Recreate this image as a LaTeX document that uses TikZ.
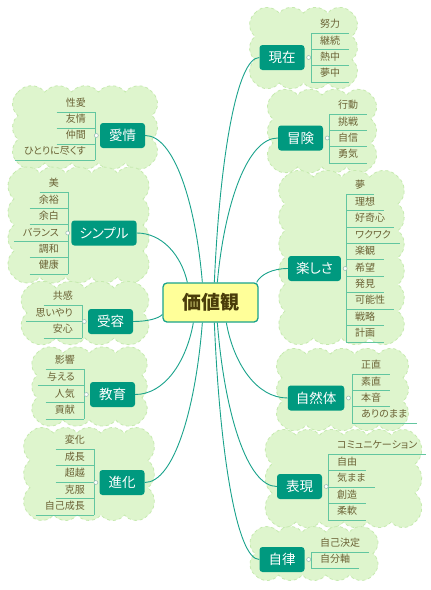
\documentclass[tikz,border=0pt]{standalone}
\usepackage{fontspec}
\newfontfamily\jp[RawFeature=+palt]{Noto Sans CJK JP}
\usetikzlibrary{calc}
\definecolor{cloudfill}{HTML}{DEF5CD}
\definecolor{clouddraw}{HTML}{C6EAAF}
\definecolor{mainc}{HTML}{00997F}
\definecolor{connc}{HTML}{1AA38C}
\definecolor{leafc}{HTML}{6B6235}
\definecolor{linec}{HTML}{62C6A0}
\definecolor{centerfill}{HTML}{FFFF99}
\definecolor{centertext}{HTML}{4A3C0A}
\definecolor{juncc}{HTML}{9DBFB4}

\newcommand\cloudbg[4]{%
  \pgfmathsetmacro\cldxa{#1+5}\pgfmathsetmacro\cldya{#2+5}%
  \pgfmathsetmacro\cldw{#3-#1-10}\pgfmathsetmacro\cldh{#4-#2-10}%
  \pgfmathtruncatemacro\cldnx{max(1,round(\cldw/26))}%
  \pgfmathtruncatemacro\cldny{max(1,round(\cldh/26))}%
  \pgfmathsetmacro\cldrx{\cldw/\cldnx/1.532}%
  \pgfmathsetmacro\cldry{\cldh/\cldny/1.532}%
  \filldraw[cloud] (\cldxa,-\cldya)
    \foreach \i in {1,...,\cldnx}{ arc[start angle=140,end angle=40,radius=\cldrx]}
    \foreach \i in {1,...,\cldny}{ arc[start angle=50,end angle=-50,radius=\cldry]}
    \foreach \i in {1,...,\cldnx}{ arc[start angle=-40,end angle=-140,radius=\cldrx]}
    \foreach \i in {1,...,\cldny}{ arc[start angle=230,end angle=130,radius=\cldry]} -- cycle;}

\newcommand\conn[2]{\draw[connline] let \p1=(#1), \p2=(#2) in (\p1) .. controls ({\x1+0.12*(\x2-\x1)},{\y1+0.55*(\y2-\y1)}) and ({\x2-0.5*(\x2-\x1)},{\y2}) .. (\p2);}
\newcommand\rleaf[4]{\node[leaf,anchor=south west] (#1) at (#2,-#3) {#4}; \draw[leafline] (#1.south west) -- (#1.south east);}
\newcommand\lleaf[4]{\node[leaf,anchor=south east] (#1) at (#2,-#3) {#4}; \draw[leafline] (#1.south west) -- (#1.south east);}

\begin{document}
\begin{tikzpicture}[x=1pt,y=1pt,
  cloud/.style={fill=cloudfill,draw=clouddraw,dashed,line width=0.8pt},
  mainnode/.style={fill=mainc,text=white,rounded corners=3pt,minimum height=25pt,minimum width=45pt,inner xsep=8pt,inner ysep=0pt,font=\jp\fontsize{13.5}{15}\selectfont},
  centernode/.style={fill=centerfill,draw=connc,line width=1.3pt,rounded corners=4pt,minimum width=95pt,minimum height=39pt,text=centertext,font=\jp\bfseries\fontsize{19}{21}\selectfont},
  leaf/.style={inner xsep=9pt,inner ysep=3pt,text height=8pt,text depth=2pt,text=leafc,font=\jp\fontsize{10}{12}\selectfont},
  leafline/.style={draw=linec,line width=0.8pt},
  connline/.style={draw=connc,line width=0.9pt},
  junc/.style={circle,draw=juncc,fill=white,line width=0.6pt,minimum size=4pt,inner sep=0pt}]
\useasboundingbox[fill=white] (0,0) rectangle (431,-590);

% clouds
\cloudbg{250}{8}{357}{88}
\cloudbg{268}{90}{376}{172}
\cloudbg{280}{172}{403}{343}
\cloudbg{277}{349}{408}{430}
\cloudbg{267}{430}{420}{527}
\cloudbg{250}{527}{378}{580}
\cloudbg{13}{87}{157}{168}
\cloudbg{9}{168}{148}{282}
\cloudbg{22}{283}{148}{343}
\cloudbg{32}{348}{147}{425}
\cloudbg{25}{428}{153}{520}

% central and main nodes
\node[centernode] (c) at (210.5,-302.5) {価値観};
\node[mainnode] (g1) at (282,-57.5) {現在};
\node[mainnode] (g2) at (300.5,-138) {冒険};
\node[mainnode] (g3) at (314.5,-268.5) {楽しさ};
\node[mainnode] (g4) at (316,-398) {自然体};
\node[mainnode] (g5) at (299.5,-486.5) {表現};
\node[mainnode] (g6) at (282,-559.5) {自律};
\node[mainnode] (g7) at (122.5,-135.5) {愛情};
\node[mainnode] (g8) at (104,-233) {シンプル};
\node[mainnode] (g9) at (110.5,-321.5) {受容};
\node[mainnode] (g10) at (112.5,-394.5) {教育};
\node[mainnode] (g11) at (122,-482.5) {進化};

% connectors
\conn{[xshift=52pt]c.north west}{g1.west}
\conn{[xshift=55pt]c.north west}{g2.west}
\conn{[xshift=-2pt]c.north east}{g3.west}
\conn{[xshift=64pt]c.south west}{g4.west}
\conn{[xshift=55pt]c.south west}{g5.west}
\conn{[xshift=52pt]c.south west}{g6.west}
\conn{[xshift=40pt]c.north west}{g7.east}
\conn{[xshift=25pt]c.north west}{g8.east}
\conn{[yshift=-12pt]c.west}{g9.east}
\conn{[xshift=31pt]c.south west}{g10.east}
\conn{[xshift=40pt]c.south west}{g11.east}

% 現在
\rleaf{g1a}{311}{33}{努力}
\rleaf{g1b}{311}{49.3}{継続}
\rleaf{g1c}{311}{65.7}{熱中}
\rleaf{g1d}{311}{82}{夢中}
\draw[leafline] (g1a.south west) -- (g1d.south west);
\node[junc] (j1) at ([xshift=4pt]g1.east) {};

% 冒険
\rleaf{g2a}{329}{114}{行動}
\rleaf{g2b}{329}{130.3}{挑戦}
\rleaf{g2c}{329}{146.7}{自信}
\rleaf{g2d}{329}{163}{勇気}
\draw[leafline] (g2a.south west) -- (g2d.south west);
\node[junc] (j2) at ([xshift=4pt]g2.east) {};

% 楽しさ
\rleaf{g3a}{346}{194}{夢}
\rleaf{g3b}{346}{210.4}{理想}
\rleaf{g3c}{346}{226.9}{好奇心}
\rleaf{g3d}{346}{243.3}{ワクワク}
\rleaf{g3e}{346}{259.8}{楽観}
\rleaf{g3f}{346}{276.2}{希望}
\rleaf{g3g}{346}{292.7}{発見}
\rleaf{g3h}{346}{309.1}{可能性}
\rleaf{g3i}{346}{325.6}{戦略}
\rleaf{g3j}{346}{342}{計画}
\draw[leafline] (g3a.south west) -- (g3j.south west);
\node[junc] (j3) at ([xshift=4pt]g3.east) {};

% 自然体
\rleaf{g4a}{352}{374}{正直}
\rleaf{g4b}{352}{390.3}{素直}
\rleaf{g4c}{352}{406.7}{本音}
\rleaf{g4d}{352}{423}{ありのまま}
\draw[leafline] (g4a.south west) -- (g4d.south west);
\node[junc] (j4) at ([xshift=4pt]g4.east) {};

% 表現
\rleaf{g5a}{328}{454}{コミュニケーション}
\rleaf{g5b}{328}{470.5}{自由}
\rleaf{g5c}{328}{487}{気まま}
\rleaf{g5d}{328}{503.5}{創造}
\rleaf{g5e}{328}{520}{柔軟}
\draw[leafline] (g5a.south west) -- (g5e.south west);
\node[junc] (j5) at ([xshift=4pt]g5.east) {};

% 自律
\rleaf{g6a}{311}{552}{自己決定}
\rleaf{g6b}{311}{568}{自分軸}
\draw[leafline] (g6a.south west) -- (g6b.south west);
\node[junc] (j6) at ([xshift=4pt]g6.east) {};

% 愛情
\lleaf{g7a}{95}{112}{性愛}
\lleaf{g7b}{95}{128}{友情}
\lleaf{g7c}{95}{144}{仲間}
\lleaf{g7d}{95}{160}{ひとりに尽くす}
\draw[leafline] (g7a.south east) -- (g7d.south east);
\node[junc] (j7) at ([xshift=-3.5pt]g7.west) {};

% シンプル
\lleaf{g8a}{68}{192}{美}
\lleaf{g8b}{68}{208.4}{余裕}
\lleaf{g8c}{68}{224.8}{余白}
\lleaf{g8d}{68}{241.2}{バランス}
\lleaf{g8e}{68}{257.6}{調和}
\lleaf{g8f}{68}{274}{健康}
\draw[leafline] (g8a.south east) -- (g8f.south east);
\node[junc] (j8) at ([xshift=-3.5pt]g8.west) {};

% 受容
\lleaf{g9a}{82}{305}{共感}
\lleaf{g9b}{82}{321.5}{思いやり}
\lleaf{g9c}{82}{338}{安心}
\draw[leafline] (g9a.south east) -- (g9c.south east);
\node[junc] (j9) at ([xshift=-3.5pt]g9.west) {};

% 教育
\lleaf{g10a}{84}{369}{影響}
\lleaf{g10b}{84}{385.7}{与える}
\lleaf{g10c}{84}{402.3}{人気}
\lleaf{g10d}{84}{419}{貢献}
\draw[leafline] (g10a.south east) -- (g10d.south east);
\node[junc] (j10) at ([xshift=-3.5pt]g10.west) {};

% 進化
\lleaf{g11a}{94}{449}{変化}
\lleaf{g11b}{94}{465.5}{成長}
\lleaf{g11c}{94}{482}{超越}
\lleaf{g11d}{94}{498.5}{克服}
\lleaf{g11e}{94}{515}{自己成長}
\draw[leafline] (g11a.south east) -- (g11e.south east);
\node[junc] (j11) at ([xshift=-3.5pt]g11.west) {};
\end{tikzpicture}
\end{document}
